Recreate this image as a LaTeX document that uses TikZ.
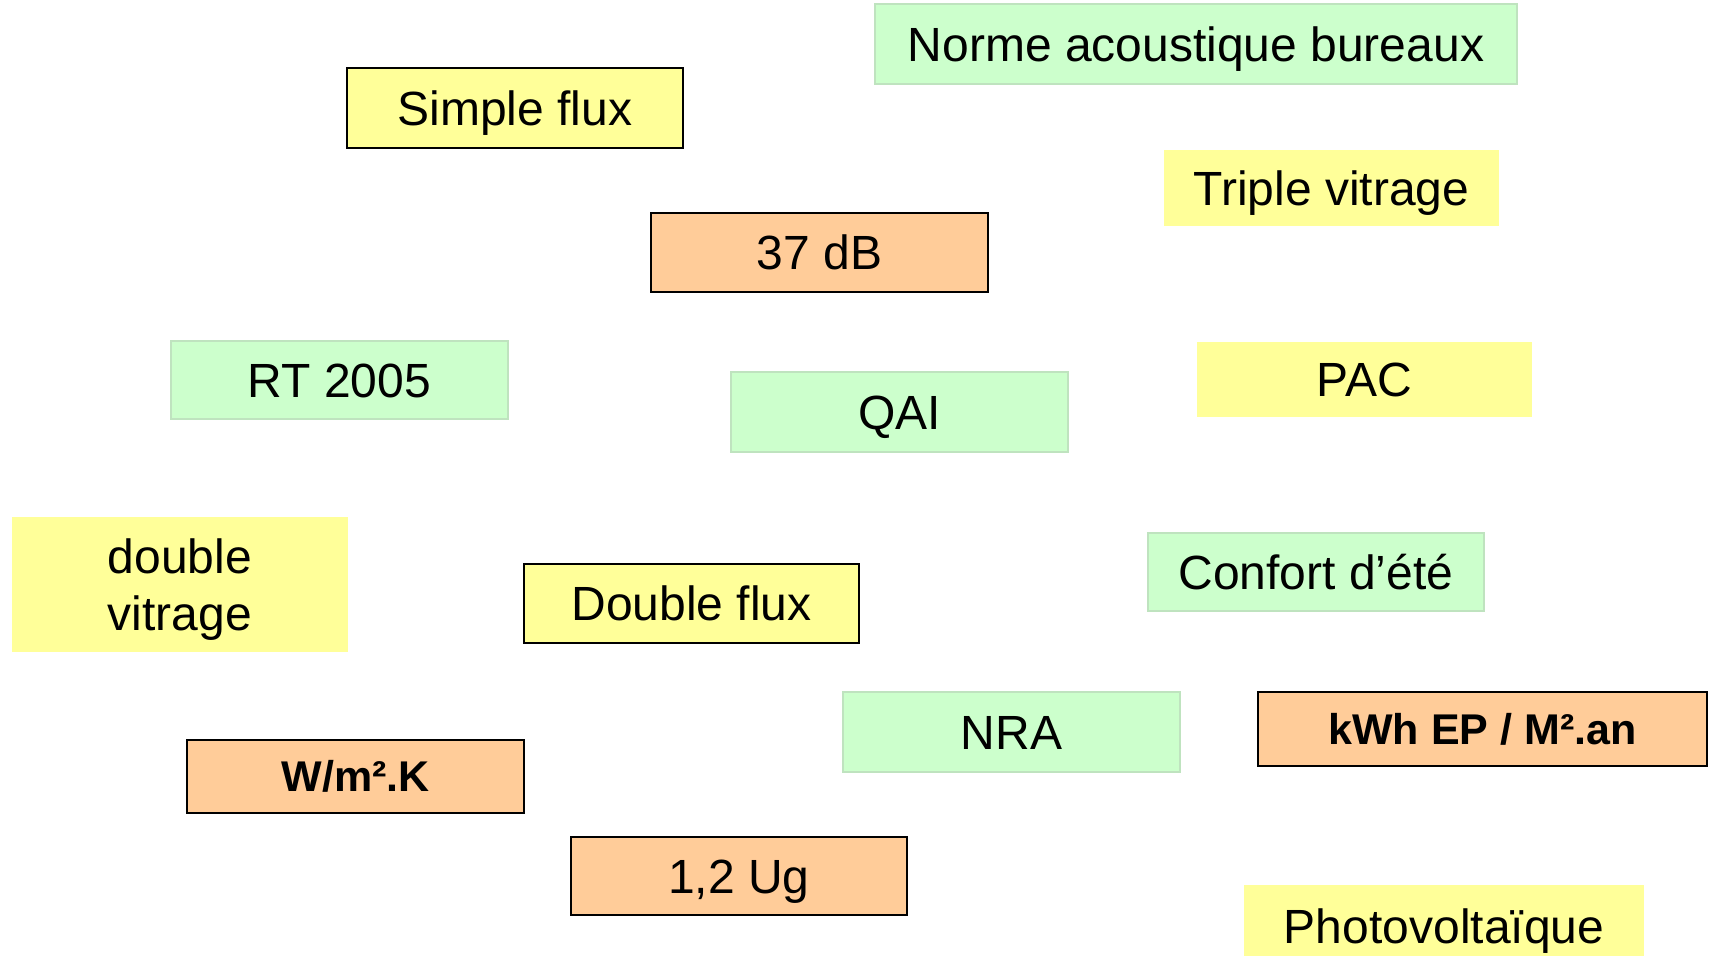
\documentclass[tikz,border=0pt]{standalone}
\usepackage{fontspec}
\setmainfont{Liberation Sans}
\definecolor{boxyellow}{HTML}{FFFF99}
\definecolor{boxgreen}{HTML}{CCFFCC}
\definecolor{boxgreenline}{HTML}{BFE3BF}
\definecolor{boxorange}{HTML}{FFCC99}
\tikzset{
  base/.style={rectangle, inner sep=0pt, minimum width=168pt, minimum height=39.5pt,
    font=\fontsize{24pt}{28.5pt}\selectfont, text height=17.2pt, text depth=0pt},
  greenbox/.style={base, fill=boxgreen, draw=boxgreenline, line width=1pt},
  yellowbox/.style={base, fill=boxyellow},
  yellowframed/.style={base, fill=boxyellow, draw=black, line width=1.3pt},
  orangebox/.style={base, fill=boxorange, draw=black, line width=1.3pt},
  boldtext/.style={font=\fontsize{21.5pt}{26pt}\selectfont\bfseries, text height=15.4pt}
}
\begin{document}
\begin{tikzpicture}[x=0.5pt,y=-0.5pt]
\useasboundingbox (0,0) rectangle (1712,955);
\clip (0,0) rectangle (1712,955);
\node[greenbox, minimum width=321pt, minimum height=40pt] (norme) at (1196,44) {Norme acoustique bureaux};
\node[yellowframed, minimum height=40pt] (simple) at (515,108) {Simple flux};
\node[yellowbox, minimum width=167.5pt, minimum height=38pt] (triple) at (1331.5,188) {Triple vitrage};
\node[orangebox, minimum width=168.5pt] (db) at (819.5,252.5) {37 dB};
\node[greenbox, minimum width=168.5pt, minimum height=39pt] (rt) at (339.5,380) {RT 2005};
\node[greenbox, minimum width=168.5pt, minimum height=40pt] (qai) at (899.5,412) {QAI};
\node[yellowbox, minimum width=167.5pt, minimum height=37.5pt] (pac) at (1364.5,379.5) {PAC};
\node[yellowbox, minimum height=67.5pt, text depth=28.5pt] (dv) at (180,584.5)
  {\vtop{\baselineskip=28.5pt\hbox to 0pt{\hss double\hss}\hbox to 0pt{\hss vitrage\hss}}};
\node[yellowframed, minimum width=167.5pt] (dflux) at (691.5,603.5) {Double flux};
\node[greenbox, minimum height=39pt] (confort) at (1316,572) {Confort d’été};
\node[greenbox, minimum width=168.5pt, minimum height=40pt] (nra) at (1011.5,732) {NRA};
\node[orangebox, boldtext, minimum width=224.5pt, minimum height=37pt] (kwh) at (1482.5,729) {kWh EP / M².an};
\node[orangebox, boldtext, minimum width=168.5pt, minimum height=36.5pt] (wm) at (355.5,776.5) {W/m².K};
\node[orangebox, minimum height=39pt] (ug) at (739,876) {1,2 Ug};
\node[yellowbox, minimum width=200pt, minimum height=41pt] (pv) at (1444,926) {Photovoltaïque};
\end{tikzpicture}
\end{document}
